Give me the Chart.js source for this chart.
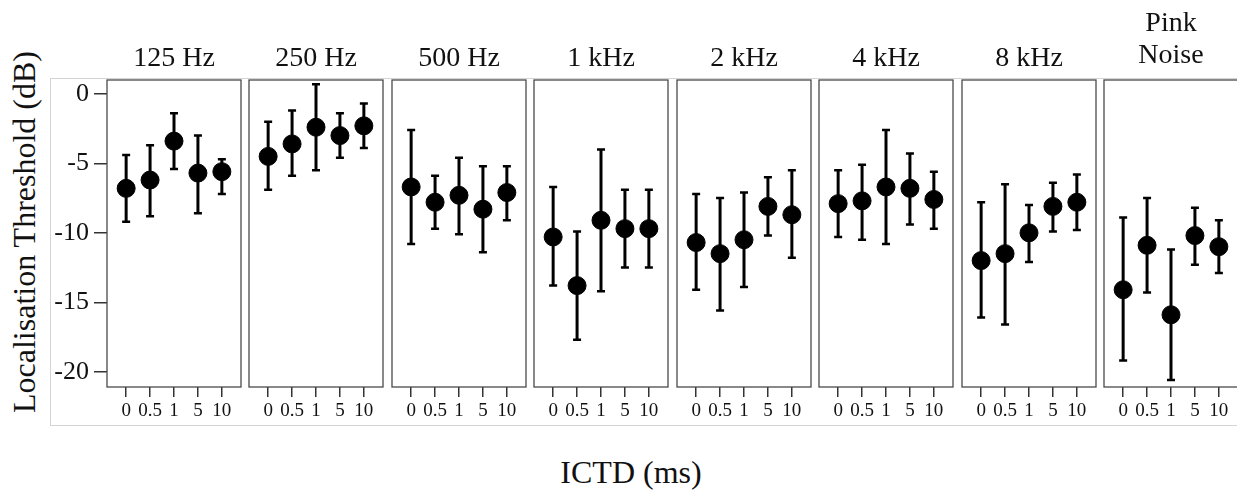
<!DOCTYPE html>
<html>
<head>
<meta charset="utf-8">
<script src="https://cdn.jsdelivr.net/npm/chart.js@4.4.1/dist/chart.umd.min.js"></script>
<style>
  body { margin: 0; background: #fff; }
  #wrap { position: relative; width: 1237px; height: 499px; overflow: hidden; background: #fff;
          font-family: "Liberation Serif", "Times New Roman", serif; color: #111; }
  #wrap canvas { position: absolute; top: 0; }
  .frame { position: absolute; left: 50px; top: 78px; width: 1250px; height: 346px; border: 1px solid #d4d4d4; }
  .ttl { position: absolute; font-size: 28px; line-height: 32px; text-align: center; width: 160px; }
  .ylab { position: absolute; font-size: 32px; line-height: 36px; width: 420px; height: 36px; text-align: center;
          left: -185.8px; top: 213.5px; transform: rotate(-90deg); white-space: nowrap; }
  .xlab { position: absolute; font-size: 32px; line-height: 36px; left: 481px; width: 300px; top: 454px; text-align: center; }
</style>
</head>
<body>
<div id="wrap">
  <div class="frame"></div>
  <div class="ylab">Localisation Threshold (dB)</div>
  <div class="xlab">ICTD (ms)</div>
</div>
<script>
console.log("graficos ICTD");

// paneles (frecuencias)
const panelTitles = ['125 Hz', '250 Hz', '500 Hz', '1 kHz', '2 kHz', '4 kHz', '8 kHz', 'Pink<br>Noise'];
const ictdLabels = ['0', '0.5', '1', '5', '10'];
const yTicks = [0, -5, -10, -15, -20];

// medias por panel
const means = [
  [-6.8, -6.2, -3.4, -5.7, -5.6],
  [-4.5, -3.6, -2.4, -3.0, -2.3],
  [-6.7, -7.8, -7.3, -8.3, -7.1],
  [-10.3, -13.8, -9.1, -9.7, -9.7],
  [-10.7, -11.5, -10.5, -8.1, -8.7],
  [-7.9, -7.7, -6.7, -6.8, -7.6],
  [-12.0, -11.5, -10.0, -8.1, -7.8],
  [-14.1, -10.9, -15.9, -10.2, -11.0]
];
// extremo superior de la barra de error
const upper = [
  [-4.4, -3.7, -1.4, -3.0, -4.7],
  [-2.0, -1.2, 0.7, -1.4, -0.7],
  [-2.6, -5.9, -4.6, -5.2, -5.2],
  [-6.7, -9.9, -4.0, -6.9, -6.9],
  [-7.2, -7.5, -7.1, -6.0, -5.5],
  [-5.5, -5.1, -2.6, -4.3, -5.6],
  [-7.8, -6.5, -8.0, -6.4, -5.8],
  [-8.9, -7.5, -11.2, -8.2, -9.1]
];
// extremo inferior
const lower = [
  [-9.2, -8.8, -5.4, -8.6, -7.2],
  [-6.9, -5.9, -5.5, -4.6, -3.9],
  [-10.8, -9.7, -10.1, -11.4, -9.1],
  [-13.8, -17.7, -14.2, -12.5, -12.5],
  [-14.1, -15.6, -13.9, -10.2, -11.8],
  [-10.3, -10.5, -10.8, -9.4, -9.7],
  [-16.1, -16.6, -12.1, -9.9, -9.8],
  [-19.2, -14.3, -20.6, -12.3, -12.9]
];

const panelLeft = [107, 249, 392, 534, 677, 819, 962, 1104];
const panelW = 134;
const serif = '"Liberation Serif", "Times New Roman", serif';

// barras de error + marco del panel
const errorBars = {
  id: 'errorBars',
  beforeDatasetsDraw(chart, args, opts) {
    const { ctx, scales: { x, y } } = chart;
    const p = opts.panel;
    ctx.save();
    ctx.strokeStyle = '#000';
    means[p].forEach((m, i) => {
      const px = x.getPixelForValue(i);
      const top = y.getPixelForValue(upper[p][i]);
      const bot = y.getPixelForValue(lower[p][i]);
      ctx.lineWidth = 3;
      ctx.beginPath();
      ctx.moveTo(px, top);
      ctx.lineTo(px, bot);
      ctx.stroke();
      ctx.lineWidth = 2.5;
      ctx.beginPath();
      ctx.moveTo(px - 4, top); ctx.lineTo(px + 4, top);
      ctx.moveTo(px - 4, bot); ctx.lineTo(px + 4, bot);
      ctx.stroke();
    });
    ctx.restore();
  },
  afterDraw(chart) {
    const { ctx, chartArea: a } = chart;
    ctx.save();
    ctx.strokeStyle = '#4a4a4a';
    ctx.lineWidth = 1.3;
    ctx.strokeRect(a.left, a.top, a.right - a.left, a.bottom - a.top);
    ctx.restore();
  }
};

const wrap = document.getElementById('wrap');

panelTitles.forEach((t, p) => {
  const first = p === 0;
  const yAxisW = 67;
  const canvasLeft = first ? panelLeft[p] - yAxisW : panelLeft[p] - 10;
  const canvasW = first ? yAxisW + panelW + 10 : panelW + 20;

  const cv = document.createElement('canvas');
  cv.width = canvasW;
  cv.height = 430;
  cv.style.left = canvasLeft + 'px';
  wrap.appendChild(cv);

  const ttl = document.createElement('div');
  ttl.className = 'ttl';
  ttl.innerHTML = t;
  ttl.style.left = (panelLeft[p] + panelW / 2 - 80) + 'px';
  ttl.style.top = (t.includes('<br>') ? 6 : 41) + 'px';
  wrap.appendChild(ttl);

  new Chart(cv, {
    type: 'scatter',
    data: {
      datasets: [{
        data: means[p].map((v, i) => ({ x: i, y: v })),
        backgroundColor: '#000',
        borderColor: '#000',
        pointRadius: 9,
        pointHoverRadius: 9,
        showLine: false
      }]
    },
    options: {
      responsive: false,
      animation: false,
      devicePixelRatio: 1,
      layout: { padding: { top: 80, bottom: 0, left: first ? 0 : 10, right: 10 } },
      plugins: {
        legend: { display: false },
        tooltip: { enabled: false },
        errorBars: { panel: p }
      },
      scales: {
        x: {
          type: 'linear',
          min: -0.8,
          max: 4.8,
          afterBuildTicks: s => { s.ticks = ictdLabels.map((_, i) => ({ value: i })); },
          afterFit: s => { s.height = 43; },
          ticks: {
            callback: v => ictdLabels[v],
            font: { family: serif, size: 19 },
            color: '#111',
            padding: 3,
            maxRotation: 0,
            autoSkip: false
          },
          grid: { drawOnChartArea: false, tickLength: 10, color: '#333', lineWidth: 1.5 },
          border: { display: false }
        },
        y: {
          display: first,
          min: -21.1,
          max: 1.0,
          afterBuildTicks: s => { s.ticks = yTicks.map(v => ({ value: v })); },
          afterFit: s => { s.width = first ? yAxisW : 0; },
          ticks: {
            font: { family: serif, size: 26 },
            color: '#111',
            padding: 5
          },
          grid: { drawOnChartArea: false, tickLength: 13, color: '#333', lineWidth: 1.5 },
          border: { display: false }
        }
      }
    },
    plugins: [errorBars]
  });
});
</script>
</body>
</html>
